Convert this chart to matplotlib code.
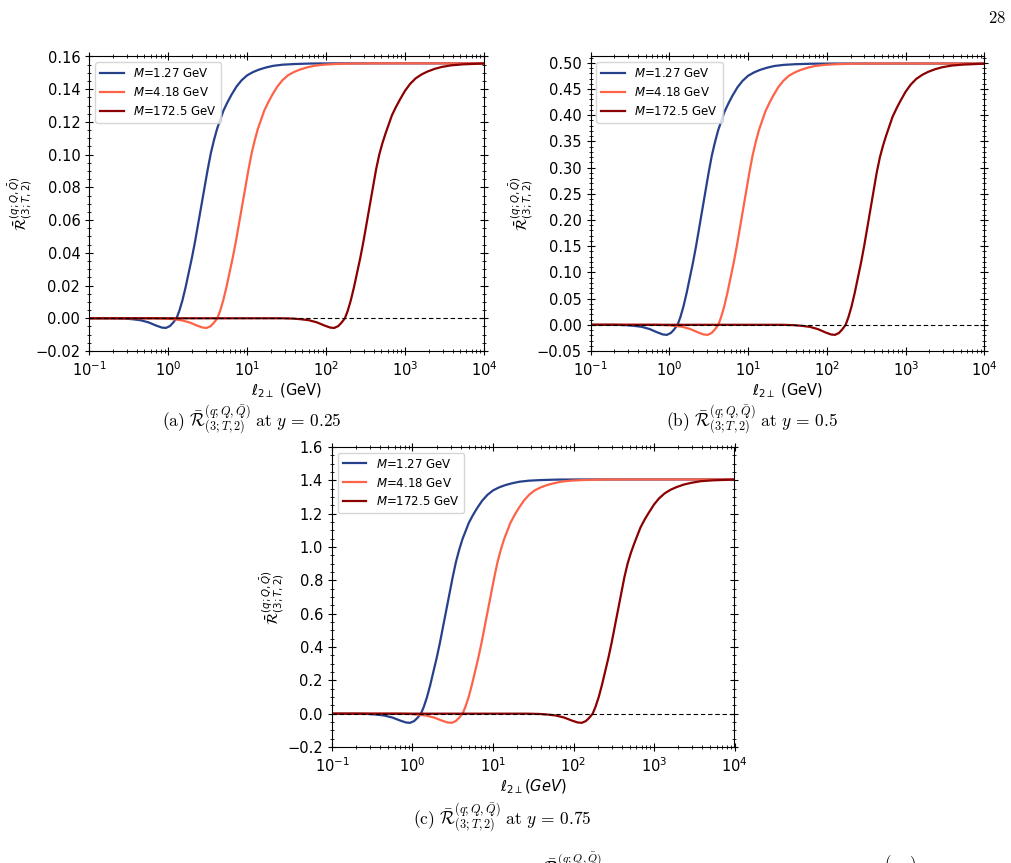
import matplotlib
matplotlib.use("Agg")
import matplotlib.pyplot as plt
from matplotlib.ticker import AutoMinorLocator, LogLocator, NullFormatter, FuncFormatter
import numpy as np

# Masses (GeV) and line colours
Mass_list = [1.27, 4.18, 172.5]
Colour_list = ["#27408b", "#ff6347", "#8b0000"]

# log10 of l_2perp (GeV) at the points
logl_M127 = [-1.0, -0.7, -0.55, -0.45, -0.35, -0.25, -0.15, -0.08, -0.03, 0.02, 0.06, 0.105, 0.14, 0.18,
             0.22, 0.26, 0.30, 0.34, 0.38, 0.42, 0.46, 0.50, 0.54, 0.58, 0.62, 0.66, 0.70, 0.75, 0.80,
             0.866, 0.93, 1.0, 1.075, 1.15, 1.24, 1.33, 1.45, 1.6, 1.8, 2.1, 4.0]
logl_M418 = [-1.0, -0.183, -0.033, 0.067, 0.167, 0.267, 0.367, 0.437, 0.487, 0.537, 0.577, 0.622, 0.657,
             0.697, 0.737, 0.777, 0.817, 0.857, 0.897, 0.937, 0.977, 1.017, 1.057, 1.097, 1.137, 1.177,
             1.217, 1.267, 1.317, 1.383, 1.447, 1.517, 1.592, 1.667, 1.757, 1.847, 1.967, 2.117, 2.317,
             2.617, 4.0]
logl_M1725 = [-1.0, 1.433, 1.583, 1.683, 1.783, 1.883, 1.983, 2.053, 2.103, 2.153, 2.193, 2.238, 2.273,
              2.313, 2.353, 2.393, 2.433, 2.473, 2.513, 2.553, 2.593, 2.633, 2.673, 2.713, 2.753, 2.793,
              2.833, 2.883, 2.933, 2.999, 3.063, 3.133, 3.208, 3.283, 3.373, 3.463, 3.583, 3.733, 3.933,
              4.0]

# (a) y = 0.25
R_a_M127 = [0, 0, -0.0002, -0.0006, -0.0012, -0.0025, -0.0045, -0.0057, -0.0059, -0.0048, -0.0028, 0.0,
            0.0045, 0.011, 0.019, 0.028, 0.037, 0.047, 0.058, 0.069, 0.080, 0.091, 0.101, 0.109, 0.116,
            0.1215, 0.127, 0.132, 0.1365, 0.1417, 0.1455, 0.1485, 0.1505, 0.152, 0.1533, 0.1543, 0.155,
            0.1554, 0.1557, 0.1558, 0.1558]
R_a_M418 = [0, 0, -0.0002, -0.0006, -0.0012, -0.0025, -0.0045, -0.0057, -0.0059, -0.0048, -0.0028, 0.0,
            0.0045, 0.011, 0.019, 0.028, 0.037, 0.047, 0.058, 0.069, 0.080, 0.091, 0.101, 0.109, 0.116,
            0.1215, 0.127, 0.132, 0.1365, 0.1417, 0.1455, 0.1485, 0.1505, 0.152, 0.1533, 0.1543, 0.155,
            0.1554, 0.1557, 0.1558, 0.1558]
R_a_M1725 = [0, 0, -0.0002, -0.0006, -0.0012, -0.0025, -0.0045, -0.0057, -0.0059, -0.0048, -0.0028, 0.0,
             0.0045, 0.011, 0.019, 0.028, 0.037, 0.047, 0.058, 0.069, 0.080, 0.091, 0.100, 0.107, 0.113,
             0.1185, 0.124, 0.129, 0.1335, 0.139, 0.1432, 0.1466, 0.149, 0.1508, 0.1524, 0.1536, 0.1546,
             0.1552, 0.1556, 0.1557]

# (b) y = 0.5
R_b_M127 = [0, 0, -0.0007, -0.002, -0.0039, -0.0081, -0.0146, -0.0185, -0.0192, -0.0156, -0.0091, 0.0,
            0.0144, 0.0352, 0.0608, 0.0896, 0.1184, 0.1504, 0.1856, 0.2208, 0.256, 0.2912, 0.3232, 0.3488,
            0.3712, 0.3888, 0.4064, 0.4224, 0.4368, 0.4534, 0.4656, 0.4752, 0.4816, 0.4864, 0.4906, 0.4938,
            0.496, 0.4973, 0.4982, 0.4986, 0.4986]
R_b_M418 = [0, 0, -0.0007, -0.002, -0.0039, -0.0081, -0.0146, -0.0185, -0.0192, -0.0156, -0.0091, 0.0,
            0.0144, 0.0352, 0.0608, 0.0896, 0.1184, 0.1504, 0.1856, 0.2208, 0.256, 0.2912, 0.3232, 0.3488,
            0.3712, 0.3888, 0.4064, 0.4224, 0.4368, 0.4534, 0.4656, 0.4752, 0.4816, 0.4864, 0.4906, 0.4938,
            0.496, 0.4973, 0.4982, 0.4986, 0.4986]
R_b_M1725 = [0, 0, -0.0007, -0.002, -0.0039, -0.0081, -0.0146, -0.0185, -0.0192, -0.0156, -0.0091, 0.0,
             0.0144, 0.0352, 0.0608, 0.0896, 0.1184, 0.1504, 0.1856, 0.2208, 0.256, 0.2912, 0.320, 0.3424,
             0.3616, 0.3792, 0.3968, 0.4128, 0.4272, 0.4448, 0.4582, 0.4691, 0.4768, 0.4826, 0.4877, 0.4915,
             0.4947, 0.4966, 0.4979, 0.4982]

# (c) y = 0.75
R_c_M127 = [0, 0, -0.0019, -0.0056, -0.0112, -0.0233, -0.0419, -0.053, -0.0549, -0.0446, -0.026, 0.0,
            0.0406, 0.0992, 0.1714, 0.2526, 0.3337, 0.4239, 0.5232, 0.6224, 0.7216, 0.8208, 0.911, 0.9832,
            1.0463, 1.0959, 1.1455, 1.1906, 1.2312, 1.2781, 1.3124, 1.3395, 1.3575, 1.371, 1.3828, 1.3918,
            1.3981, 1.4017, 1.4044, 1.4053, 1.4053]
R_c_M418 = [0, 0, -0.0019, -0.0056, -0.0112, -0.0233, -0.0419, -0.053, -0.0549, -0.0446, -0.026, 0.0,
            0.0406, 0.0992, 0.1714, 0.2526, 0.3337, 0.4239, 0.5232, 0.6224, 0.7216, 0.8208, 0.911, 0.9832,
            1.0463, 1.0959, 1.1455, 1.1906, 1.2312, 1.2781, 1.3124, 1.3395, 1.3575, 1.371, 1.3828, 1.3918,
            1.3981, 1.4017, 1.4044, 1.4053, 1.4053]
R_c_M1725 = [0, 0, -0.0019, -0.0056, -0.0112, -0.0233, -0.0419, -0.053, -0.0549, -0.0446, -0.026, 0.0,
             0.0406, 0.0992, 0.1714, 0.2526, 0.3337, 0.4239, 0.5232, 0.6224, 0.7216, 0.8208, 0.902, 0.965,
             1.019, 1.069, 1.118, 1.164, 1.204, 1.254, 1.292, 1.322, 1.344, 1.360, 1.375, 1.385,
             1.395, 1.400, 1.4035, 1.4044]

logl_list = [logl_M127, logl_M418, logl_M1725]
R_panels = [[R_a_M127, R_a_M418, R_a_M1725],
            [R_b_M127, R_b_M418, R_b_M1725],
            [R_c_M127, R_c_M418, R_c_M1725]]
Ylim_list = [(-0.02, 0.16), (-0.05, 0.512), (-0.2, 1.6)]
Ystep_list = [0.02, 0.05, 0.2]
Ytickfmt_list = ["%.2f", "%.2f", "%.1f"]
Xlabel_list = [r"$\ell_{2\perp}$ (GeV)", r"$\ell_{2\perp}$ (GeV)", r"$\ell_{2\perp} (GeV)$"]
Caption_list = [r"$\mathrm{(a)}\ \bar{\mathcal{R}}^{(q;Q,\bar{Q})}_{(3;T,2)}\ \mathrm{at}\ y\,=\,0.25$",
                r"$\mathrm{(b)}\ \bar{\mathcal{R}}^{(q;Q,\bar{Q})}_{(3;T,2)}\ \mathrm{at}\ y\,=\,0.5$",
                r"$\mathrm{(c)}\ \bar{\mathcal{R}}^{(q;Q,\bar{Q})}_{(3;T,2)}\ \mathrm{at}\ y\,=\,0.75$"]

# axes rectangles in pixels (left, top, right, bottom) and caption centres
W, H = 1012, 863
Ax_px = [(89.3, 56.5, 484.0, 351.0), (590.5, 56.5, 984.5, 351.0), (332.0, 447.0, 734.5, 747.0)]
Cap_px = [(252, 420), (752, 420), (502, 818)]

fig = plt.figure(figsize=(W/100, H/100), dpi=100)

for i in range(3):
    l, t, r, b = Ax_px[i]
    ax = fig.add_axes([l/W, 1 - b/H, (r - l)/W, (b - t)/H])
    for j in range(3):
        ax.plot(10**np.array(logl_list[j]), R_panels[i][j], "-", color=Colour_list[j], lw=1.6,
                label=r"$M$=" + str(Mass_list[j]) + " GeV")
    ax.axhline(0, color="black", ls="--", lw=0.8, dashes=(4, 2.5))
    ax.set_xscale("log")
    ax.set_xlim(0.1, 1e4)
    ax.set_yticks(np.arange(Ylim_list[i][0], Ylim_list[i][1] + 1e-9, Ystep_list[i]))
    ax.set_ylim(*Ylim_list[i])
    fmt = Ytickfmt_list[i]
    ax.yaxis.set_major_formatter(FuncFormatter(lambda v, p, fmt=fmt: (fmt % v).replace("-", "\u2212")))
    ax.yaxis.set_minor_locator(AutoMinorLocator())
    ax.xaxis.set_major_locator(LogLocator(base=10, numticks=10))
    ax.xaxis.set_minor_locator(LogLocator(base=10, subs=np.arange(2, 10), numticks=20))
    ax.xaxis.set_minor_formatter(NullFormatter())
    ax.tick_params(which="both", direction="inout", top=True, right=True, labelsize=10.5)
    ax.tick_params(which="major", length=6)
    ax.tick_params(which="minor", length=3)
    ax.set_xlabel(Xlabel_list[i], fontsize=10.5, labelpad=2)
    ax.set_ylabel(r"$\bar{\mathcal{R}}^{(q;Q,\bar{Q})}_{(3;T,2)}$", fontsize=10.5, labelpad=1)
    ax.legend(loc="upper left", fontsize=8.5)
    fig.text(Cap_px[i][0]/W, 1 - Cap_px[i][1]/H, Caption_list[i], ha="center", va="center",
             fontsize=12.5, math_fontfamily="cm")

# page number and the cut-off caption at the page bottom
fig.text(0.994, 1 - 18/H, r"$\mathrm{28}$", ha="right", va="center", fontsize=12, math_fontfamily="cm")
fig.text(543/W, 1 - 851/H, r"$\bar{\mathcal{R}}^{(q;Q,\bar{Q})}_{(3;T,2)}$", ha="left", va="top",
         fontsize=12, math_fontfamily="cm")
fig.text(884/W, 1 - 853/H, r"$(\ \ \ \ )$", ha="left", va="top", fontsize=12, math_fontfamily="cm")

fig.savefig("out.png", dpi=100)
